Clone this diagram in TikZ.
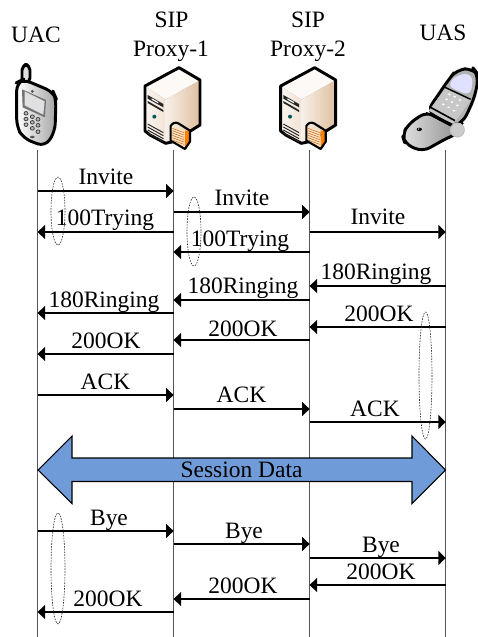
\documentclass[tikz,border=0pt]{standalone}
\usepackage{fontspec}
\setmainfont{Liberation Serif}
\usetikzlibrary{arrows.meta}
\definecolor{lifegray}{HTML}{555555}
\definecolor{bigblue}{HTML}{6F9BD8}
\tikzset{
  x=0.75pt,y=-0.75pt,
  lifeline/.style={draw=lifegray,line width=0.8pt},
  msg/.style={draw=black,line width=1.1pt,-{Triangle[length=5.6pt,width=10.5pt]}},
  lbl/.style={anchor=base,inner sep=0pt,font=\fontsize{17.6pt}{20pt}\selectfont},
  ring/.style={draw=black!85,line width=0.45pt,dash pattern=on 1.2pt off 0.9pt},
  outline/.style={draw=black,line width=2.2pt,line join=round}
}
\newcommand{\servericon}[1]{%
\begin{scope}[shift={(#1,0)},scale=1/3]
  \fill[left color=white!92!brown,right color=brown!22!white] (435,258) -- (497,298) -- (497,430) -- (435,395) -- cycle;
  \fill[left color=brown!12!white,right color=brown!50!white] (497,298) -- (600,240) -- (600,375) -- (497,430) -- cycle;
  \fill[brown!5!white] (537,203) -- (600,240) -- (497,298) -- (435,258) -- cycle;
  \draw[outline] (537,203) -- (600,240) -- (600,375) -- (520,425) -- (497,430) -- (450,405) -- (435,393) -- (435,258) -- cycle;
  \fill[black!85] (443,285) -- (490,312) -- (490,322) -- (443,296) -- cycle;
  \fill[white] (455,295) -- (475,306) -- (475,310) -- (455,299) -- cycle;
  \fill[black!85] (443,303) -- (490,330) -- (490,336) -- (443,309) -- cycle;
  \fill[teal!70!black] (463,350) circle (6);
  \foreach \d in {0,9,18,27}{\draw[black!85,line width=0.7pt] (443,372+\d) -- (490,398+\d);}
  \fill[orange!25!white] (512,378) -- (555,392) -- (555,445) -- (512,422) -- cycle;
  \fill[orange] (555,392) -- (570,392) -- (570,425) -- (555,445) -- cycle;
  \foreach \d in {0,7,14,21,28,35}{\draw[orange!70!black,line width=0.3pt] (517,385+\d) -- (552,398+\d);}
  \draw[black,line width=1.6pt,line join=round] (512,378) .. controls (518,368) and (526,366) .. (535,370) -- (570,392) -- (570,425) -- (555,447) -- (512,422) -- cycle;
\end{scope}}
\begin{document}
\begin{tikzpicture}
\useasboundingbox (0,0) rectangle (478,637);
% lifeline anchors
\coordinate (uac) at (37.6,150);
\coordinate (pa) at (173.6,150);
\coordinate (pb) at (309.6,150);
\coordinate (uas) at (445.8,150);
\coordinate (uacend) at (37.6,637);
\coordinate (paend) at (173.6,637);
\coordinate (pbend) at (309.6,637);
\coordinate (uasend) at (445.8,637);
\draw[lifeline] (uac) -- (uacend);
\draw[lifeline] (pa) -- (paend);
\draw[lifeline] (pb) -- (pbend);
\draw[lifeline] (uas) -- (uasend);
% titles
\node[lbl] (tuac) at (36,42) {UAC};
\node[lbl] (tsipa) at (171.5,27) {SIP};
\node[lbl] (tproa) at (171,56) {Proxy-1};
\node[lbl] (tsipb) at (308,27) {SIP};
\node[lbl] (tprob) at (308,56) {Proxy-2};
\node[lbl] (tuas) at (443,40) {UAS};
% messages
\foreach \i/\from/\to/\y/\txt/\lx/\ly in {
 1/uac/pa/191/Invite/106/184,
 2/pa/uac/232/100Trying/105/225,
 3/pa/pb/212/Invite/242/205,
 4/pb/pa/252/100Trying/240/246,
 5/pb/uas/232/Invite/378/224,
 6/uas/pb/286/180Ringing/376/279,
 7/pb/pa/300/180Ringing/243/293,
 8/pa/uac/313/180Ringing/104/307,
 9/uas/pb/327/200OK/379/321,
 10/pb/pa/340/200OK/243/336,
 11/pa/uac/354/200OK/106/348,
 12/uac/pa/395/ACK/105.5/389,
 13/pa/pb/409/ACK/241.5/402,
 14/pb/uas/422/ACK/375/416,
 15/uac/pa/531/Bye/109/525,
 16/pa/pb/544/Bye/244/538,
 17/pb/uas/558/Bye/381/552,
 18/uas/pb/585/200OK/381/579,
 19/pb/pa/599/200OK/243/593,
 20/pa/uac/612/200OK/108/606}{
  \draw[msg] (\from |- 0,\y) -- (\to |- 0,\y);
  \node[lbl] (m\i) at (\lx,\ly) {\txt};
}
% session arrow
\draw[fill=bigblue,draw=black,line width=0.8pt,line join=miter] (38,470) -- (72,436) -- (72,458) -- (412,458) -- (412,436) -- (445.5,470) -- (412,503.5) -- (412,481.5) -- (72,481.5) -- (72,503.5) -- cycle;
\node[lbl] (sd) at (241.5,477) {Session Data};
% ellipses
\draw[ring] (58,211) ellipse (7 and 34);
\draw[ring] (194,231.5) ellipse (7 and 34.5);
\draw[ring] (425.5,375.5) ellipse (6.5 and 63.5);
\draw[ring] (58,568.5) ellipse (7 and 55.5);
% caller handset
\begin{scope}[scale=1/3]
  \draw[outline,fill=black!12,rounded corners=4pt] (66,250) -- (66,194) -- (90,194) -- (90,250) -- cycle;
  \fill[left color=white,right color=black!35,rounded corners=6pt] (50,248) -- (70,238) -- (160,276) -- (168,295) -- (165,395) -- (135,440) -- (70,415) -- (50,380) -- cycle;
  \draw[outline,rounded corners=6pt] (50,248) -- (70,238) -- (160,276) -- (168,295) -- (165,395) -- (135,440) -- (70,415) -- (50,380) -- cycle;
  \fill[black!55] (66,268) -- (138,300) -- (135,352) -- (68,322) -- cycle;
  \fill[blue!6!black!12] (74,274) -- (134,304) -- (130,344) -- (74,316) -- cycle;
  \fill[black!65] (97,274) circle (5);
  \fill[black!65] (97,411) ellipse (7 and 4);
  \foreach \px/\py in {78/340,97/350,114/358,78/357,97/367,114/376,78/374,97/385,114/395}{
    \draw[black!80,fill=black!30,line width=0.5pt] (\px,\py) ellipse (6 and 5.5);
  }
\end{scope}
% servers
\servericon{0}
\servericon{135.7}
% flip handset
\begin{scope}[shift={(240,0)},scale=1/3]
  \fill[left color=black!12,right color=black!45,rounded corners=6pt] (487,405) -- (505,372) -- (560,335) -- (640,378) -- (668,395) -- (625,412) -- (548,455) -- (495,432) -- cycle;
  \draw[outline,rounded corners=6pt] (487,405) -- (505,372) -- (560,335) -- (640,378) -- (668,395) -- (625,412) -- (548,455) -- (495,432) -- cycle;
  \fill[black!30,rounded corners=7pt] (560,335) -- (625,240) -- (650,208) -- (700,205) -- (716,225) -- (705,290) -- (668,370) -- (640,378) -- cycle;
  \draw[outline,rounded corners=7pt] (560,335) -- (625,240) -- (650,208) -- (700,205) -- (716,225) -- (705,290) -- (668,370) -- (640,378) -- cycle;
  \fill[black!22] (566,332) -- (618,264) -- (692,300) -- (640,372) -- cycle;
  \draw[black,line width=1.2pt] (558,338) -- (638,380);
  \draw[black,line width=1.2pt] (568,320) -- (645,362);
  \draw[black,line width=1.1pt] (615,262) -- (692,298);
  \fill[blue!12!white,rounded corners=6pt] (620,258) -- (652,222) -- (700,222) -- (692,288) -- cycle;
  \foreach \px/\py in {628/283,644/290,660/300,620/298,636/306,652/316,610/313,626/322,642/332}{
    \fill[white] (\px,\py) ellipse (4.5 and 3);
  }
  \draw[black!25,line width=0.8pt,fill=black!20] (652,390) circle (21);
  \fill[black] (538,388) ellipse (8 and 5);
  \fill[white] (536,387) circle (2);
\end{scope}
\end{tikzpicture}
\end{document}
